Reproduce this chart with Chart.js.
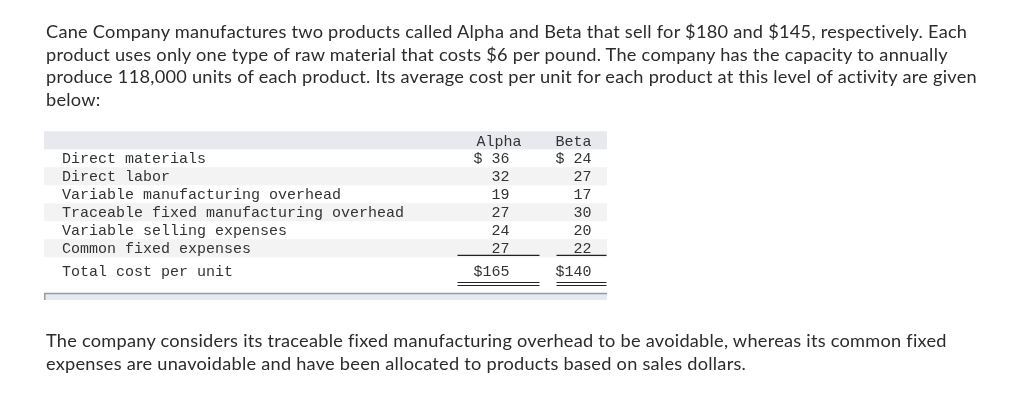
<!DOCTYPE html>
<html>
<head>
<meta charset="utf-8">
<script src="https://cdn.jsdelivr.net/npm/chart.js@4"></script>
<style>
  html, body { margin: 0; padding: 0; background: #fff; }
  body { width: 1024px; height: 404px; position: relative; overflow: hidden; }
  #chartWrap { position: absolute; left: 0; top: 0; width: 1024px; height: 404px; }
  .para {
    position: absolute; left: 46px; z-index: 2;
    font-family: Lato, sans-serif; font-size: 18.2px; line-height: 22.7px;
    letter-spacing: 0.25px; color: #2b2b2b; white-space: nowrap;
  }
</style>
</head>
<body>
<div id="chartWrap"><canvas id="costChart"></canvas></div>
<div class="para" style="top:20px">Cane Company manufactures two products called Alpha and Beta that sell for $180 and $145, respectively. Each<br>product uses only one type of raw material that costs $6 per pound. The company has the capacity to annually<br>produce 118,000 units of each product. Its average cost per unit for each product at this level of activity are given<br>below:</div>
<div class="para" style="top:329px">The company considers its traceable fixed manufacturing overhead to be avoidable, whereas its common fixed<br>expenses are unavoidable and have been allocated to products based on sales dollars.</div>
<script>
const columns = ['Alpha', 'Beta'];
const rowLabels = [
  'Direct materials',
  'Direct labor',
  'Variable manufacturing overhead',
  'Traceable fixed manufacturing overhead',
  'Variable selling expenses',
  'Common fixed expenses'
];
const totalLabel = 'Total cost per unit';
const alphaCosts = [36, 32, 19, 27, 24, 27];
const betaCosts = [24, 27, 17, 30, 20, 22];
const unitTotals = [165, 140];

const allRows = rowLabels.concat([totalLabel]);
const costsByColumn = [alphaCosts, betaCosts];

// table look
const monoFont = '15px "Liberation Mono", "Courier New", monospace';
const textColor = '#333';
const tableLeft = 44;
const tableRight = 607;
const headerRight = [23, 10];   // header text right edge, from column centre
const valueRight = [11, 10];    // value text right edge, from column centre
const ruleHalf = [41, 25];      // half width of the under-rules
const totalShift = 4.7;         // total row sits a little lower

function formatCell(v, r) {
  if (r === 0) return '$ ' + v;
  if (r === rowLabels.length) return '$' + v;
  return String(v);
}

function hLine(ctx, x1, x2, y, color, w) {
  ctx.strokeStyle = color;
  ctx.lineWidth = w;
  ctx.beginPath();
  ctx.moveTo(x1, y);
  ctx.lineTo(x2, y);
  ctx.stroke();
}

const tablePlugin = {
  id: 'costTable',
  beforeDatasetsDraw(chart) {
    const ctx = chart.ctx;
    const y = chart.scales.y;
    const slot = y.getPixelForValue(1) - y.getPixelForValue(0);
    const firstY = y.getPixelForValue(0);
    const totalY = y.getPixelForValue(rowLabels.length) + totalShift;
    ctx.save();
    // header band
    ctx.fillStyle = '#e7e9ef';
    ctx.fillRect(tableLeft, firstY - slot * 1.5, tableRight - tableLeft, slot);
    // striped rows
    ctx.fillStyle = '#f3f3f3';
    rowLabels.forEach((label, i) => {
      if (i % 2 === 1) {
        const cy = y.getPixelForValue(i);
        ctx.fillRect(tableLeft, cy - slot / 2, tableRight - tableLeft, slot);
      }
    });
    // bottom bar
    ctx.fillStyle = '#e5e9f3';
    ctx.fillRect(tableLeft, totalY + 22, tableRight - tableLeft, 7);
    hLine(ctx, tableLeft, tableRight, totalY + 22.5, '#9a9a9a', 1.5);
    ctx.fillStyle = '#9a9a9a';
    ctx.fillRect(tableLeft, totalY + 22, 1.5, 7);
    ctx.restore();
  },
  afterDatasetsDraw(chart) {
    const ctx = chart.ctx;
    const y = chart.scales.y;
    const slot = y.getPixelForValue(1) - y.getPixelForValue(0);
    const headerY = y.getPixelForValue(0) - slot + 1.5;
    ctx.save();
    ctx.font = monoFont;
    ctx.fillStyle = textColor;
    ctx.textBaseline = 'middle';

    // row labels from the y axis
    ctx.textAlign = 'left';
    allRows.forEach((label, i) => {
      const cy = y.getPixelForValue(i) + (i === rowLabels.length ? totalShift : 0) + 1;
      ctx.fillText(y.getLabelForValue(i), 62, cy);
    });

    chart.data.datasets.forEach((ds, c) => {
      const meta = chart.getDatasetMeta(c);
      const cx = chart.scales.x.getPixelForValue(c);
      ctx.textAlign = 'right';
      ctx.fillText(ds.label, cx + headerRight[c], headerY);
      meta.data.forEach((pt, r) => {
        const isTotal = r === rowLabels.length;
        const py = pt.y + (isTotal ? totalShift : 0) + 1;
        ctx.fillText(formatCell(ds.data[r].v, r), pt.x + valueRight[c], py);
      });
      // rules under the last cost row and the total
      const x1 = cx - ruleHalf[c];
      const x2 = Math.min(cx + ruleHalf[c], tableRight);
      const lastY = y.getPixelForValue(rowLabels.length - 1);
      const totalY = y.getPixelForValue(rowLabels.length) + totalShift;
      hLine(ctx, x1, x2, lastY + slot / 2 - 2, '#222', 1.2);
      hLine(ctx, x1, x2, totalY + 11.5, '#222', 1.2);
      hLine(ctx, x1, x2, totalY + 14.5, '#222', 1.2);
    });
    ctx.restore();
  }
};

const ctx = document.getElementById('costChart').getContext('2d');
const costChart = new Chart(ctx, {
  type: 'scatter',
  data: {
    datasets: columns.map((col, c) => ({
      label: col,
      data: costsByColumn[c].concat([unitTotals[c]]).map((v, r) => ({ x: col, y: allRows[r], v: v })),
      pointRadius: 0,
      pointHoverRadius: 0,
      showLine: false
    }))
  },
  options: {
    responsive: true,
    maintainAspectRatio: false,
    animation: false,
    events: [],
    layout: {
      padding: { left: 457, right: 401, top: 149.3, bottom: 128.7 }
    },
    plugins: {
      legend: { display: false },
      tooltip: { enabled: false }
    },
    scales: {
      x: { type: 'category', labels: columns, offset: true, display: false },
      y: { type: 'category', labels: allRows, offset: true, display: false }
    }
  },
  plugins: [tablePlugin]
});
</script>
</body>
</html>
